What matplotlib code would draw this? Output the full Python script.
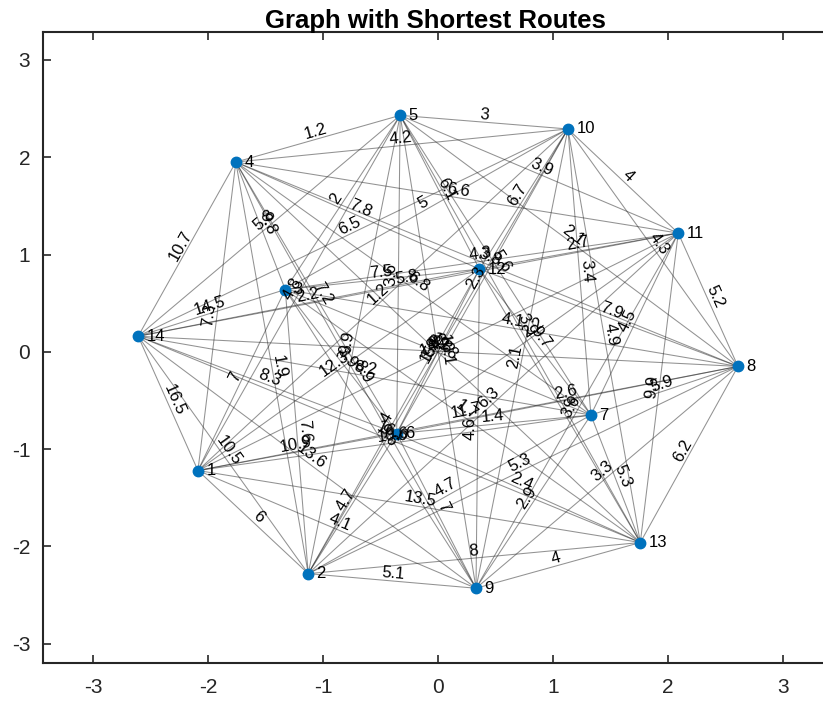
import matplotlib.pyplot as plt
import numpy as np

# node layout (data coords), node i+1
node_x = [-2.09, -1.13, -1.33, -1.76, -0.33, -0.36, 1.33, 2.61, 0.33, 1.13, 2.09, 0.36, 1.76, -2.61]
node_y = [-1.22, -2.28, 0.64, 1.95, 2.43, -0.84, -0.65, -0.15, -2.43, 2.29, 1.22, 0.85, -1.96, 0.16]

# edges: source, target, weight
src = [1, 1, 1, 1, 1, 1, 1, 1, 1, 1, 1, 1, 1,
       2, 2, 2, 2, 2, 2, 2, 2, 2, 2, 2, 2,
       3, 3, 3, 3, 3, 3, 3, 3, 3, 3, 3,
       4, 4, 4, 4, 4, 4, 4, 4, 4, 4,
       5, 5, 5, 5, 5, 5, 5, 5, 5,
       6, 6, 6, 6, 6, 6, 6, 6,
       7, 7, 7, 7, 7, 7, 7,
       8, 8, 8, 8, 8, 8,
       9, 9, 9, 9, 9,
       10, 10, 10, 10,
       11, 11, 11,
       12, 12,
       13]
dst = [2, 3, 4, 5, 6, 7, 8, 9, 10, 11, 12, 13, 14,
       3, 4, 5, 6, 7, 8, 9, 10, 11, 12, 13, 14,
       4, 5, 6, 7, 8, 9, 10, 11, 12, 13, 14,
       5, 6, 7, 8, 9, 10, 11, 12, 13, 14,
       6, 7, 8, 9, 10, 11, 12, 13, 14,
       7, 8, 9, 10, 11, 12, 13, 14,
       8, 9, 10, 11, 12, 13, 14,
       9, 10, 11, 12, 13, 14,
       10, 11, 12, 13, 14,
       11, 12, 13, 14,
       12, 13, 14,
       13, 14,
       14]
weight = [6, 7, 7.3, 4.8, 10.9, 10.6, 11.7, 4.1, 1.2, 14.3, 12.3, 13.5, 16.5,
          7.6, 1.9, 9.9, 4.7, 4.7, 5.3, 5.1, 15.2, 6.3, 4, 8, 10.5,
          9.8, 2, 3.9, 8.8, 4.1, 9.6, 5, 4.3, 7.5, 1.7, 14.5,
          1.2, 7.2, 6.8, 3.8, 8.9, 4.2, 6.6, 7.8, 12.8, 10.7,
          3.6, 5.6, 2.1, 10.1, 3, 3.9, 6.1, 3.9, 5.8,
          1.4, 2.6, 7, 2.3, 2.2, 1.9, 2.4, 8.3,
          5.9, 2.9, 3.4, 4.5, 9.7, 5.3, 8.2,
          3.3, 4.3, 5.2, 7.9, 6.2, 9.2,
          2.1, 3.6, 4.6, 4, 13.6,
          4, 6.7, 4.9, 6.5,
          2.7, 9.9, 5.8,
          3, 2.2,
          16.6]

plt.rcParams['font.family'] = ['Liberation Sans', 'DejaVu Sans']
plt.rcParams['axes.unicode_minus'] = False

fig = plt.figure(figsize=(8.23, 7.04), dpi=100)
ax = fig.add_axes([0.052, 0.058, 0.955, 0.897])
ax.set_xlim(-3.44, 3.40)
ax.set_ylim(-3.20, 3.29)

x = np.array(node_x)
y = np.array(node_y)

for s, t, w in zip(src, dst, weight):
    x0, y0 = x[s - 1], y[s - 1]
    x1, y1 = x[t - 1], y[t - 1]
    ax.plot([x0, x1], [y0, y1], color='#262626', alpha=0.5, lw=0.75, zorder=1)
    ang = np.degrees(np.arctan2(y1 - y0, x1 - x0))
    if ang > 90:
        ang -= 180
    elif ang <= -90:
        ang += 180
    ax.text((x0 + x1) / 2, (y0 + y1) / 2, f'{w:g}', fontsize=12,
            rotation=ang, rotation_mode='anchor', transform_rotates_text=True,
            ha='center', va='bottom', color='black', zorder=3)

ax.plot(x, y, 'o', color='#0072BD', markersize=7.5, zorder=2)
for i in range(len(x)):
    ax.annotate(str(i + 1), (x[i], y[i]), xytext=(6, 0), textcoords='offset points',
                fontsize=12, va='center', ha='left', zorder=4)

ax.set_xticks(range(-3, 4))
ax.set_yticks(range(-3, 4))
ax.tick_params(direction='in', length=6, width=1.2, labelsize=15, colors='#262626',
               top=True, right=False, pad=11)
ax.tick_params(axis='y', pad=9)
for sp in ax.spines.values():
    sp.set_linewidth(1.5)
    sp.set_color('#262626')
ax.set_title('Graph with Shortest Routes', fontsize=18.5, fontweight='bold', pad=3)

fig.savefig('out.png', dpi=100)
